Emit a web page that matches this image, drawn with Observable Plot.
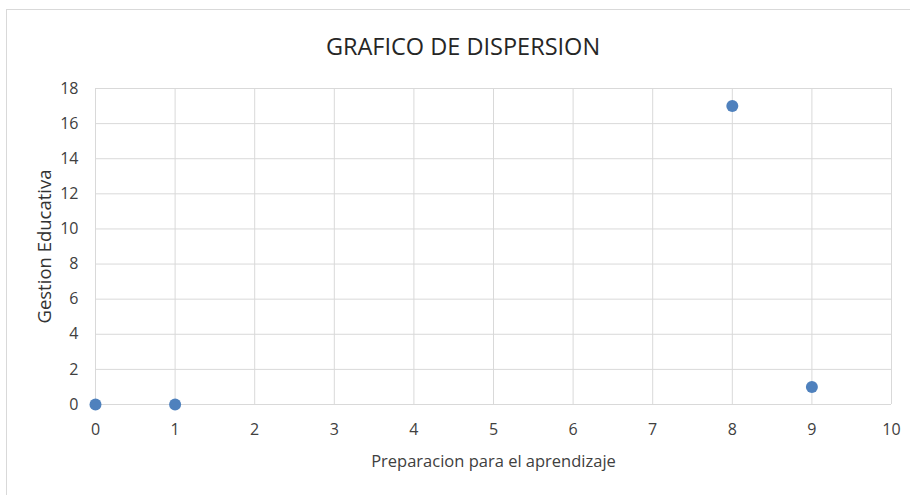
<!DOCTYPE html>
<html>
<head>
<meta charset="utf-8">
<script src="https://cdn.jsdelivr.net/npm/d3@7"></script>
<script src="https://cdn.jsdelivr.net/npm/@observablehq/plot@0.6"></script>
<style>
  body { margin: 0; background: #fff; }
  #wrap { position: relative; width: 910px; height: 495px; overflow: hidden; }
  #border { position: absolute; left: 6px; top: 9px; width: 940px; height: 520px; border: 1px solid #d9d9d9; box-sizing: border-box; }
  #title { position: absolute; left: 6px; width: 914px; top: 34px; line-height: 24px; text-align: center; font-family: "Open Sans", sans-serif; font-size: 23.5px; color: #262626; }
  #chart { position: absolute; left: 0; top: 0; }
</style>
</head>
<body>
<div id="wrap">
  <div id="border"></div>
  <div id="chart"></div>
  <div id="title">GRAFICO DE DISPERSION</div>
</div>
<script>
const xValues = [0, 1, 8, 9];
const yValues = [0, 0, 17, 1];
const xTicks = [0, 1, 2, 3, 4, 5, 6, 7, 8, 9, 10];
const yTicks = [0, 2, 4, 6, 8, 10, 12, 14, 16, 18];
const xLabel = "Preparacion para el aprendizaje";
const yLabel = "Gestion Educativa";

const data = xValues.map((x, i) => ({x, y: yValues[i]}));

const chart = Plot.plot({
  width: 910,
  height: 495,
  marginLeft: 95,
  marginRight: 19,
  marginTop: 88,
  marginBottom: 91,
  style: { fontFamily: "Open Sans, sans-serif", fontSize: "16px", color: "#404040", background: "transparent" },
  x: { domain: [0, 10] },
  y: { domain: [0, 18] },
  marks: [
    Plot.gridX(xTicks, { stroke: "#d9d9d9", strokeOpacity: 1 }),
    Plot.gridY(yTicks, { stroke: "#d9d9d9", strokeOpacity: 1 }),
    Plot.axisX(xTicks, { tickSize: 0, tickPadding: 19, label: null, fontSize: 16 }),
    Plot.axisY(yTicks, { tickSize: 0, tickPadding: 17, label: null, fontSize: 16 }),
    Plot.text([xLabel], { frameAnchor: "bottom", dy: 62, text: d => d, fontSize: 16.5, fill: "#404040" }),
    Plot.text([yLabel], { frameAnchor: "left", textAnchor: "middle", dx: -50, rotate: -90, text: d => d, fontSize: 18.5, fill: "#333" }),
    Plot.dot(data, { x: "x", y: "y", r: 6, fill: "#4f81bd", stroke: "none" })
  ]
});
document.getElementById("chart").appendChild(chart);
</script>
</body>
</html>
